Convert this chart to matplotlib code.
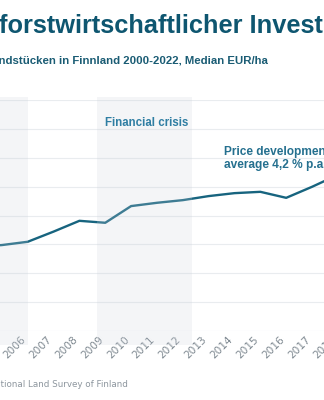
import matplotlib
matplotlib.use("Agg")
import matplotlib.pyplot as plt
from matplotlib.patches import Rectangle

# ---- data (visible part of the chart) ----
years = [2004, 2005, 2006, 2007, 2008, 2009, 2010, 2011, 2012, 2013, 2014, 2015, 2016, 2017, 2018]
price = [1460, 1488, 1545, 1721, 1908, 1874, 2163, 2220, 2266, 2336, 2387, 2410, 2306, 2497, 2704]
tick_years = list(range(2000, 2023))
grid_values = [0, 500, 1000, 1500, 2000, 2500, 3000, 3500, 4000]
bands = [(2001.0, 2006.0), (2008.7, 2012.35)]

title = "forstwirtschaftlicher Investitionen"
subtitle = "Preise von Waldgrundstücken in Finnland 2000-2022, Median EUR/ha"
source = "Source: National Land Survey of Finland"
crisis_label = "Financial crisis"
trend_label = "Price development\naverage 4,2 % p.a."

W, H = 324, 400
fig = plt.figure(figsize=(W / 100, H / 100), dpi=100)
fig.patch.set_facecolor("white")

# axes geometry in pixels (axes extends beyond the visible canvas)
px_per_year = 25.85
x2006 = 27.7
x0 = 2000
x1 = 2022
left_px = x2006 - (2006 - x0) * px_per_year
width_px = (x1 - x0) * px_per_year
bottom_px = H - 331
height_px = 331 - 100
ax = fig.add_axes([left_px / W, bottom_px / H, width_px / W, height_px / H])
ax.set_xlim(x0, x1)
ax.set_ylim(0, 4000)

ax.set_yticks(grid_values)
ax.set_yticklabels([])
ax.tick_params(axis="y", length=0)
ax.set_xticks(tick_years)
ax.set_xticklabels([str(y) for y in tick_years], rotation=45, ha="right",
                   fontsize=7.6, color="#7f8991", family="DejaVu Sans")
ax.tick_params(axis="x", length=0, pad=2.5)
ax.grid(axis="y", color="#e9ecef", linewidth=0.8)
ax.set_axisbelow(True)
for s in ax.spines.values():
    s.set_visible(False)

ax.plot(years, price, color="#17647f", linewidth=1.7, zorder=2, solid_joinstyle="round")

for (a, b) in bands:
    ax.add_patch(Rectangle((a, -242), b - a, 4060 + 242, facecolor="#cdd2dc",
                           alpha=0.22, edgecolor="none", zorder=3, clip_on=False))

ax.text(2008.99, 3600, crisis_label, fontsize=8.3, fontweight="bold", color="#2f7ea3",
        family="Liberation Sans", va="center", ha="left", zorder=4)
ax.text(2013.59, 2985, trend_label, fontsize=8.6, fontweight="bold", color="#25708f",
        family="Liberation Sans", va="center", ha="left", linespacing=1.1, zorder=4)

fig.text(-1 / W, 1 - 33 / H, title, fontsize=18.3, fontweight="bold", color="#0e5670",
         family="Liberation Sans", ha="left", va="baseline")
fig.text(268 / W, 1 - 64 / H, subtitle, fontsize=8.2, fontweight="bold", color="#1a5c74",
         family="Liberation Sans", ha="right", va="baseline")
fig.text(128 / W, 1 - 387 / H, source, fontsize=6.3, color="#8d969e",
         family="DejaVu Sans", ha="right", va="baseline")

fig.savefig("out.png", dpi=100, facecolor="white")
